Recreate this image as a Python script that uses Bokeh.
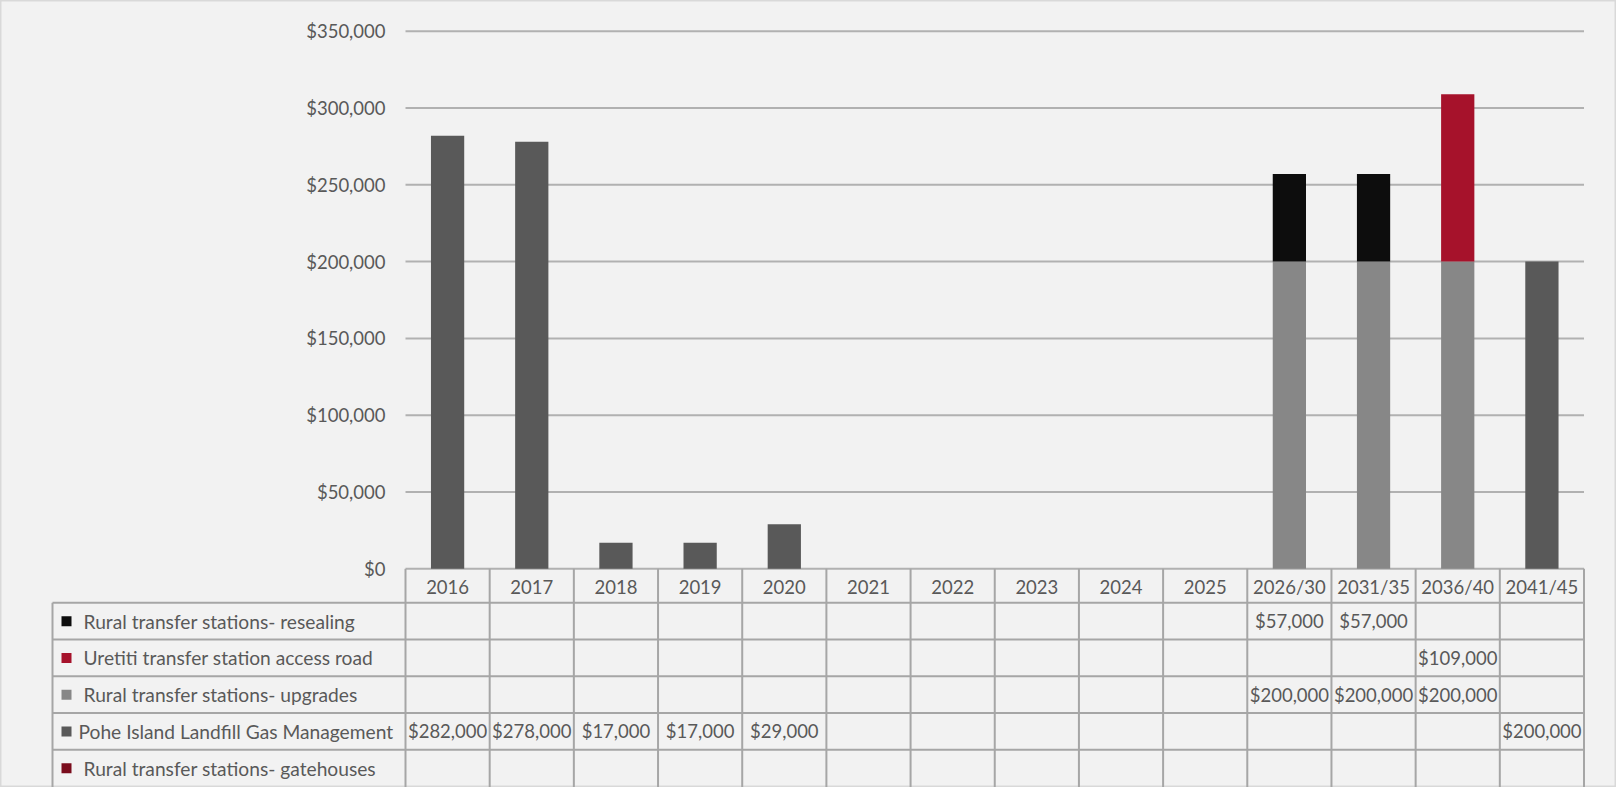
from bokeh.plotting import figure
from bokeh.models import (ColumnDataSource, Range1d, LinearAxis, FixedTicker,
                          NumeralTickFormatter, Grid)
from bokeh.core.properties import value
from bokeh.embed import file_html
from bokeh.resources import INLINE

# ---------------- data ----------------
categories = ["2016", "2017", "2018", "2019", "2020", "2021", "2022", "2023",
              "2024", "2025", "2026/30", "2031/35", "2036/40", "2041/45"]

series_names = ["Rural transfer stations- resealing",
                "Uretiti transfer station access road",
                "Rural transfer stations- upgrades",
                "Pohe Island Landfill Gas Management",
                "Rural transfer stations- gatehouses"]

resealing = [0, 0, 0, 0, 0, 0, 0, 0, 0, 0, 57000, 57000, 0, 0]
uretiti = [0, 0, 0, 0, 0, 0, 0, 0, 0, 0, 0, 0, 109000, 0]
upgrades = [0, 0, 0, 0, 0, 0, 0, 0, 0, 0, 200000, 200000, 200000, 0]
pohe = [282000, 278000, 17000, 17000, 29000, 0, 0, 0, 0, 0, 0, 0, 0, 200000]
gatehouses = [0, 0, 0, 0, 0, 0, 0, 0, 0, 0, 0, 0, 0, 0]

series_colors = ["#0d0d0d", "#a6122b", "#878787", "#595959", "#7a0c1c"]
y_ticks = [0, 50000, 100000, 150000, 200000, 250000, 300000, 350000]

# ---------------- layout (page pixels) ----------------
W, H = 1616, 787
X0_PX, XN_PX = 405.0, 1583.5          # left / right of category area
YTOP_PX, Y0_PX = 30.7, 568.3          # $350,000 and $0 lines
TABLE_LEFT_PX = 52.0
HEADER_H = 34.0
ROW_H = 36.75

n = len(categories)
cw = (XN_PX - X0_PX) / n
xmin = -X0_PX / cw
xmax = n + (W - XN_PX) / cw
dpp = y_ticks[-1] / (Y0_PX - YTOP_PX)
ymax = y_ticks[-1] + YTOP_PX * dpp
ymin = -(H - Y0_PX) * dpp


def xpx(px):
    return (px - X0_PX) / cw


def ypx(px):
    return -(px - Y0_PX) * dpp


BG = "#f2f2f2"
TXT = "#595959"
FONT = "Lato"
FS = "18.5px"
FS_NAME = "19.2px"
LINE = "#a6a6a6"

p = figure(width=W, height=H, x_range=Range1d(xmin, xmax),
           y_range=Range1d(ymin, ymax), x_axis_location=None,
           y_axis_location=None, toolbar_location=None, output_backend="svg",
           min_border_left=0, min_border_right=0, min_border_top=0,
           min_border_bottom=0, background_fill_color=BG,
           border_fill_color=BG, outline_line_color="#d9d9d9",
           outline_line_width=2)
p.center = [r for r in p.center if not isinstance(r, Grid)]

# gridlines over category area only
p.segment(x0=[0] * len(y_ticks), x1=[n] * len(y_ticks), y0=y_ticks, y1=y_ticks,
          line_color="#b1b1b1", line_width=2)

# stacked bars
xs = [i + 0.5 for i in range(n)]
src = ColumnDataSource(dict(x=xs, resealing=resealing, uretiti=uretiti,
                            upgrades=upgrades, pohe=pohe,
                            gatehouses=gatehouses))
stack_keys = ["gatehouses", "pohe", "upgrades", "uretiti", "resealing"]
stack_cols = [series_colors[4], series_colors[3], series_colors[2],
              series_colors[1], series_colors[0]]
p.vbar_stack(stack_keys, x="x", width=0.395, fill_color=stack_cols,
             line_color=None, source=src)

# y axis at x=0
yax = LinearAxis(fixed_location=0, ticker=FixedTicker(ticks=y_ticks),
                 formatter=NumeralTickFormatter(format="$0,0"))
yax.axis_line_color = None
yax.major_tick_line_color = None
yax.minor_tick_line_color = None
yax.major_tick_out = 0
yax.major_label_standoff = 20
yax.major_label_text_font = FONT
yax.major_label_text_font_size = FS
yax.major_label_text_color = TXT
p.add_layout(yax, "left")

# category axis (header row of the data table)
xax = LinearAxis(fixed_location=0, ticker=FixedTicker(ticks=xs),
                 major_label_overrides={x: c for x, c in zip(xs, categories)})
xax.axis_line_color = None
xax.major_tick_line_color = None
xax.minor_tick_line_color = None
xax.major_tick_out = 0
xax.major_tick_in = 0
xax.major_label_standoff = 7
xax.major_label_text_font = FONT
xax.major_label_text_font_size = FS
xax.major_label_text_color = TXT
p.add_layout(xax, "below")

# data table lines
row_tops = [Y0_PX + HEADER_H + ROW_H * i for i in range(len(series_names))]
tl = xpx(TABLE_LEFT_PX)
p.segment(x0=[tl] * len(row_tops), x1=[n] * len(row_tops),
          y0=[ypx(v) for v in row_tops], y1=[ypx(v) for v in row_tops],
          line_color=LINE, line_width=2)
p.segment(x0=list(range(n + 1)), x1=list(range(n + 1)),
          y0=[0] * (n + 1), y1=[ymin] * (n + 1), line_color=LINE, line_width=2)
p.segment(x0=[tl], x1=[tl], y0=[ypx(row_tops[0])], y1=[ymin],
          line_color=LINE, line_width=2)

# legend keys and series names
row_centers = [ypx(Y0_PX + HEADER_H + ROW_H * (i + 0.5)) for i in range(len(series_names))]
p.rect(x=[xpx(TABLE_LEFT_PX + 14)] * len(series_names), y=row_centers,
       width=10, height=10, width_units="screen", height_units="screen",
       fill_color=series_colors, line_color=None)
name_src = ColumnDataSource(dict(x=[tl] * len(series_names), y=row_centers,
                                 t=series_names, off=[31, 31, 31, 26, 31]))
p.text(x="x", y="y", text="t", x_offset="off", source=name_src,
       text_font=value(FONT), text_font_size=FS_NAME, text_color=TXT,
       text_align="left", text_baseline="middle")

# cell values
series_vals = [resealing, uretiti, upgrades, pohe, gatehouses]
cx, cy, ct = [], [], []
for r, vals in enumerate(series_vals):
    for i, v in enumerate(vals):
        if v:
            cx.append(xs[i])
            cy.append(row_centers[r])
            ct.append("${:,}".format(v))
p.text(x=cx, y=cy, text=ct, text_font=value(FONT), text_font_size=FS,
       text_color=TXT, text_align="center", text_baseline="middle")

open("out.html", "w").write(file_html(p, INLINE))
